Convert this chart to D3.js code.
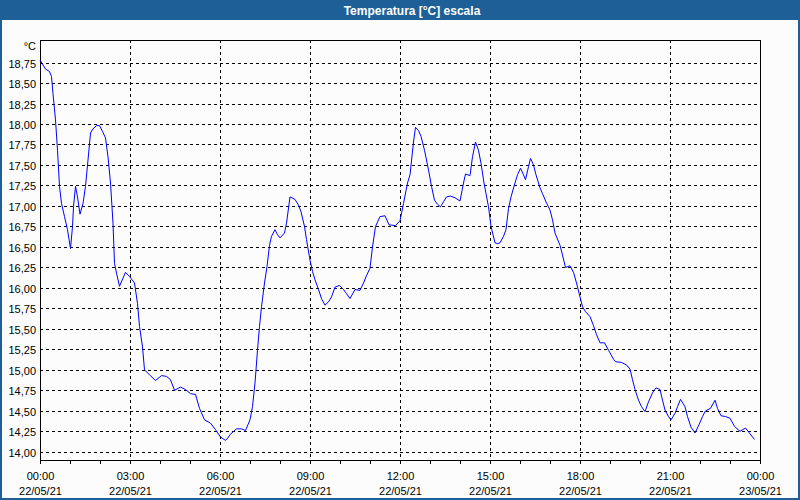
<!DOCTYPE html>
<html>
<head>
<meta charset="utf-8">
<script src="https://cdn.jsdelivr.net/npm/d3@7"></script>
<style>
  html, body { margin: 0; padding: 0; background: #ffffff; }
  svg { display: block; }
  text { font-family: "Liberation Sans", Arial, sans-serif; }
</style>
</head>
<body>
<svg id="chart" width="800" height="500"></svg>
<script>
// ---- data (minutes after 22/05/21 00:00, temperature °C) ----
const title = "Temperatura [°C] escala";
const unitLabel = "°C";
const minutes = [0,6,11,19,23,26,31,35,39,43,49,55,61,65,67,71,75,80,86,91,96,101,106,113,119,125,131,136,141,146,149,153,159,166,171,179,189,195,199,205,209,219,231,243,253,261,269,281,291,301,311,319,329,341,351,361,371,376,380,393,403,411,420,425,430,435,439,443,449,454,459,463,470,475,480,489,493,500,510,517,522,529,533,540,545,550,557,563,570,577,583,590,599,607,613,620,630,640,647,653,660,665,671,680,690,698,711,720,727,735,740,747,751,757,762,769,777,783,789,795,801,807,813,821,830,840,847,851,860,865,871,877,882,888,897,902,910,915,920,927,932,937,942,950,955,961,967,971,977,981,987,992,1000,1005,1012,1020,1025,1030,1040,1045,1051,1060,1067,1073,1080,1085,1091,1100,1107,1113,1120,1129,1137,1147,1151,1163,1173,1180,1185,1190,1197,1203,1210,1217,1225,1232,1240,1245,1250,1257,1262,1270,1275,1281,1290,1295,1302,1310,1318,1325,1331,1341,1350,1355,1362,1371,1380,1389,1400,1411,1420,1429];
const temps = [18.78,18.72,18.67,18.64,18.58,18.37,18.05,17.68,17.24,17.03,16.87,16.71,16.48,16.75,16.99,17.24,17.11,16.90,17.03,17.24,17.56,17.89,17.94,17.98,17.98,17.91,17.83,17.60,17.28,16.79,16.30,16.18,16.02,16.12,16.19,16.14,16.06,15.81,15.53,15.28,15.00,14.94,14.87,14.93,14.92,14.88,14.75,14.79,14.76,14.71,14.70,14.53,14.39,14.35,14.27,14.18,14.14,14.17,14.21,14.28,14.28,14.26,14.39,14.55,14.84,15.24,15.53,15.77,16.06,16.26,16.52,16.63,16.71,16.65,16.61,16.67,16.79,17.11,17.08,17.01,16.93,16.75,16.59,16.34,16.20,16.10,15.98,15.87,15.79,15.83,15.89,16.01,16.03,15.98,15.93,15.87,15.98,15.97,16.06,16.15,16.24,16.50,16.75,16.87,16.88,16.77,16.76,16.82,17.03,17.28,17.38,17.78,17.96,17.92,17.85,17.68,17.44,17.24,17.07,17.02,16.99,17.05,17.11,17.12,17.10,17.06,17.28,17.39,17.37,17.60,17.78,17.68,17.52,17.28,16.99,16.75,16.55,16.54,16.55,16.63,16.71,16.97,17.11,17.28,17.38,17.46,17.38,17.32,17.48,17.58,17.50,17.38,17.22,17.15,17.05,16.95,16.83,16.67,16.52,16.40,16.25,16.27,16.19,16.06,15.89,15.77,15.71,15.65,15.54,15.43,15.33,15.33,15.24,15.13,15.10,15.09,15.06,15.01,14.88,14.76,14.63,14.55,14.49,14.61,14.72,14.78,14.76,14.63,14.51,14.43,14.39,14.47,14.55,14.64,14.55,14.43,14.30,14.23,14.33,14.43,14.50,14.53,14.63,14.53,14.44,14.43,14.41,14.31,14.25,14.29,14.22,14.15];
const yTickValues = [14.00,14.25,14.50,14.75,15.00,15.25,15.50,15.75,16.00,16.25,16.50,16.75,17.00,17.25,17.50,17.75,18.00,18.25,18.50,18.75];
const startDate = new Date(2021, 4, 22, 0, 0);
const endDate = new Date(2021, 4, 23, 0, 0);

// ---- layout ----
const W = 800, H = 500;
const pLeft = 40, pRight = 760, pTop = 40, pBottom = 460;
const svg = d3.select("#chart");

svg.append("rect").attr("x", 0).attr("y", 0).attr("width", W).attr("height", H).attr("fill", "#1d5f96");
svg.append("rect").attr("x", 2).attr("y", 20).attr("width", W - 4).attr("height", H - 22).attr("fill", "#fcfcfc");
svg.append("text").attr("x", 412).attr("y", 14.5).attr("text-anchor", "middle")
  .attr("fill", "#ffffff").attr("font-weight", "bold").attr("font-size", "12px").text(title);

const x = d3.scaleTime().domain([startDate, endDate]).range([pLeft, pRight]);
const y = d3.scaleLinear().domain([13.9, 19.025]).range([pBottom, pTop]);

const locale = d3.formatLocale({decimal: ",", thousands: ".", grouping: [3], currency: ["", "€"]});
const fmtY = locale.format(".2f");

// horizontal grid
const g = svg.append("g").attr("shape-rendering", "crispEdges");
g.selectAll("line.hg").data(yTickValues).join("line")
  .attr("x1", pLeft).attr("x2", pRight)
  .attr("y1", d => Math.round(y(d)) + 0.5).attr("y2", d => Math.round(y(d)) + 0.5)
  .attr("stroke", "#000").attr("stroke-width", 1).attr("stroke-dasharray", "3,3");

// vertical grid every 3h
const majorTicks = x.ticks(d3.timeHour.every(3));
g.selectAll("line.vg").data(majorTicks.filter(d => +d !== +startDate && +d !== +endDate)).join("line")
  .attr("x1", d => Math.round(x(d)) + 0.5).attr("x2", d => Math.round(x(d)) + 0.5)
  .attr("y1", pTop).attr("y2", pBottom)
  .attr("stroke", "#000").attr("stroke-width", 1).attr("stroke-dasharray", "3,3");

// minor ticks every hour below the axis
const minorTicks = x.ticks(d3.timeHour.every(1));
g.selectAll("line.mt").data(minorTicks).join("line")
  .attr("x1", d => Math.round(x(d)) + 0.5).attr("x2", d => Math.round(x(d)) + 0.5)
  .attr("y1", pBottom).attr("y2", pBottom + 4)
  .attr("stroke", "#000").attr("stroke-width", 1);

// frame
g.append("path")
  .attr("d", `M${pLeft + 0.5},${pBottom + 0.5}V${pTop + 0.5}H${pRight + 0.5}V${pBottom + 0.5}Z`)
  .attr("fill", "none").attr("stroke", "#000").attr("stroke-width", 1);

// y labels
svg.append("g").selectAll("text").data(yTickValues).join("text")
  .attr("x", 36).attr("y", d => Math.round(y(d)) + 4.5)
  .attr("text-anchor", "end").attr("font-size", "11px").attr("fill", "#000")
  .text(d => fmtY(d));
svg.append("text").attr("x", 36).attr("y", 50).attr("text-anchor", "end")
  .attr("font-size", "11px").attr("fill", "#000").text(unitLabel);

// x labels
const fTime = d3.timeFormat("%H:%M"), fDate = d3.timeFormat("%d/%m/%y");
const xl = svg.append("g").selectAll("g").data(majorTicks).join("g");
xl.append("text").attr("x", d => x(d) + 0.5).attr("y", 479.5).attr("text-anchor", "middle")
  .attr("font-size", "11px").attr("fill", "#000").text(d => fTime(d));
xl.append("text").attr("x", d => x(d) + 0.5).attr("y", 494.5).attr("text-anchor", "middle")
  .attr("font-size", "11px").attr("fill", "#000").text(d => fDate(d));

// series
const series = minutes.map((m, i) => ({t: d3.timeMinute.offset(startDate, m), v: temps[i]}));
const line = d3.line().x(d => x(d.t)).y(d => y(d.v));
svg.append("path").datum(series).attr("d", line)
  .attr("fill", "none").attr("stroke", "#0000ff").attr("stroke-width", 1)
  .attr("stroke-linejoin", "round");
</script>
</body>
</html>
